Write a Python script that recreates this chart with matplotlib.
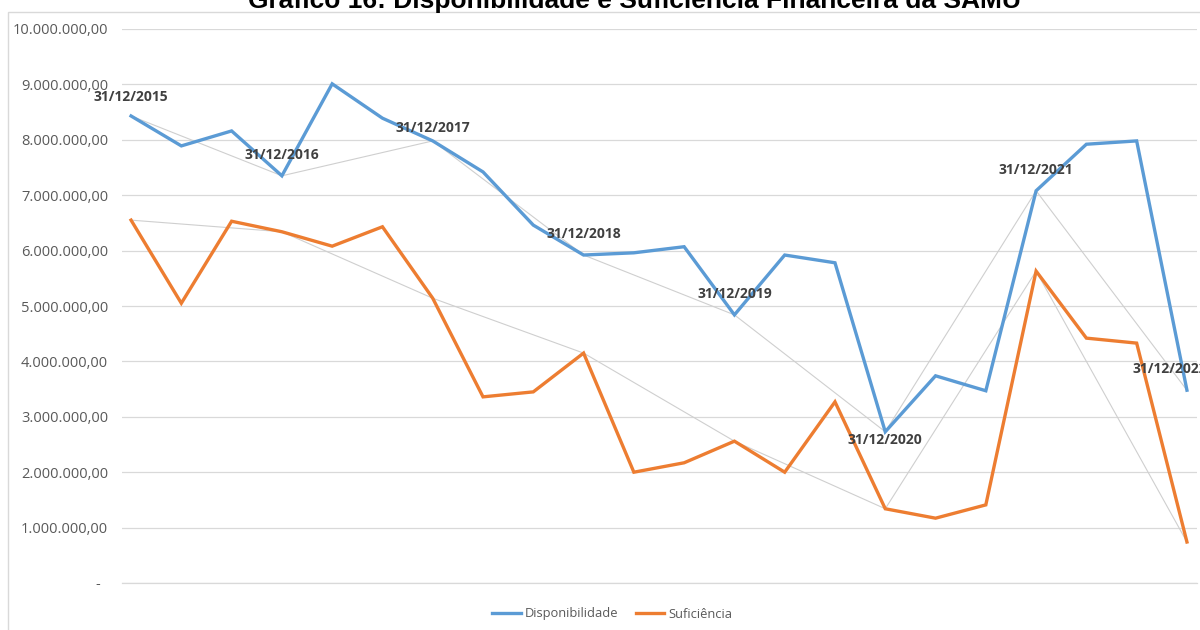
import numpy as np
import matplotlib.pyplot as plt
from matplotlib.patches import Rectangle
from matplotlib.ticker import FuncFormatter, MultipleLocator

# valores (R$)
disponibilidade = [8.43, 7.89, 8.16, 7.35, 9.01, 8.39, 7.98, 7.42, 6.46, 5.92, 5.96,
                   6.07, 4.84, 5.92, 5.78, 2.73, 3.74, 3.47, 7.08, 7.92, 7.98, 3.48]
suficiencia = [6.55, 5.05, 6.53, 6.34, 6.08, 6.43, 5.14, 3.36, 3.45, 4.15, 2.00,
               2.17, 2.56, 2.00, 3.27, 1.34, 1.17, 1.41, 5.63, 4.42, 4.33, 0.74]
# pontos de fechamento anual (a cada 3 leituras)
fechamentos = [0, 3, 6, 9, 12, 15, 18, 21]
rotulos = ['31/12/2015', '31/12/2016', '31/12/2017', '31/12/2018',
           '31/12/2019', '31/12/2020', '31/12/2021', '31/12/2022']
# deslocamento dos rótulos em pontos (x, y)
desloc = [(0, 14), (0, 15), (0, 9), (0, 15), (0, 15), (0, -6), (0, 15), (-12, 15)]

disp = np.array(disponibilidade) * 1e6
suf = np.array(suficiencia) * 1e6
x = np.arange(len(disp))
anos = np.array(fechamentos)

AZUL = '#5B9BD5'
LARANJA = '#ED7D31'
CINZA_TXT = '#595959'

fig = plt.figure(figsize=(12, 6.3), dpi=100)
ax = fig.add_axes([122 / 1200, 47 / 630, 1075 / 1200, 554 / 630])

# linhas de tendência anual
ax.plot(anos, disp[anos], color='#CFCFCF', lw=0.8, zorder=2)
ax.plot(anos, suf[anos], color='#CFCFCF', lw=0.8, zorder=2)

ax.plot(x, disp, color=AZUL, lw=2.4, label='Disponibilidade', zorder=3,
        solid_joinstyle='miter')
ax.plot(x, suf, color=LARANJA, lw=2.4, label='Suficiência', zorder=3,
        solid_joinstyle='miter')

for i, txt, (dx, dy) in zip(fechamentos, rotulos, desloc):
    ax.annotate(txt, (x[i], disp[i]), xytext=(dx, dy), textcoords='offset points',
                ha='center', va='center', fontsize=10, fontweight='bold',
                color='#404040', family='Open Sans', annotation_clip=False,
                zorder=4)

ax.set_xlim(-0.18, 21.2)
ax.set_ylim(0, 10e6)
ax.yaxis.set_major_locator(MultipleLocator(1e6))


def fmt(v, pos):
    if abs(v) < 1:
        return '-  '
    s = f'{v:,.2f}'
    return s.replace(',', 'X').replace('.', ',').replace('X', '.')


ax.yaxis.set_major_formatter(FuncFormatter(fmt))
ax.set_xticks([])
ax.tick_params(axis='y', length=0, pad=10, labelsize=10.5, labelcolor=CINZA_TXT)
for lab in ax.get_yticklabels():
    lab.set_family('Open Sans')
ax.grid(axis='y', color='#D9D9D9', lw=0.9)
ax.axhline(0, color='#D9D9D9', lw=0.9, clip_on=False, zorder=1)
ax.set_axisbelow(True)
for s in ax.spines.values():
    s.set_visible(False)

leg = ax.legend(loc='center', bbox_to_anchor=(0.456, -31 / 554), ncol=2,
                frameon=False, handlelength=2.2, columnspacing=1.4,
                prop={'family': 'Open Sans', 'size': 9.3}, handletextpad=0.3)
for t in leg.get_texts():
    t.set_color(CINZA_TXT)

# moldura do gráfico
fig.patches.append(Rectangle((8 / 1200, -0.05), 1.2, 1 - 12 / 630 + 0.05,
                             transform=fig.transFigure, fill=False,
                             edgecolor='#D9D9D9', lw=1))

fig.text(0.529, 1 - 8 / 630, 'Gráfico 16: Disponibilidade e Suficiência Financeira da SAMU',
         ha='center', va='baseline', fontsize=19, fontweight='bold',
         family='Liberation Sans', color='black')

fig.savefig('out.png', dpi=100)
